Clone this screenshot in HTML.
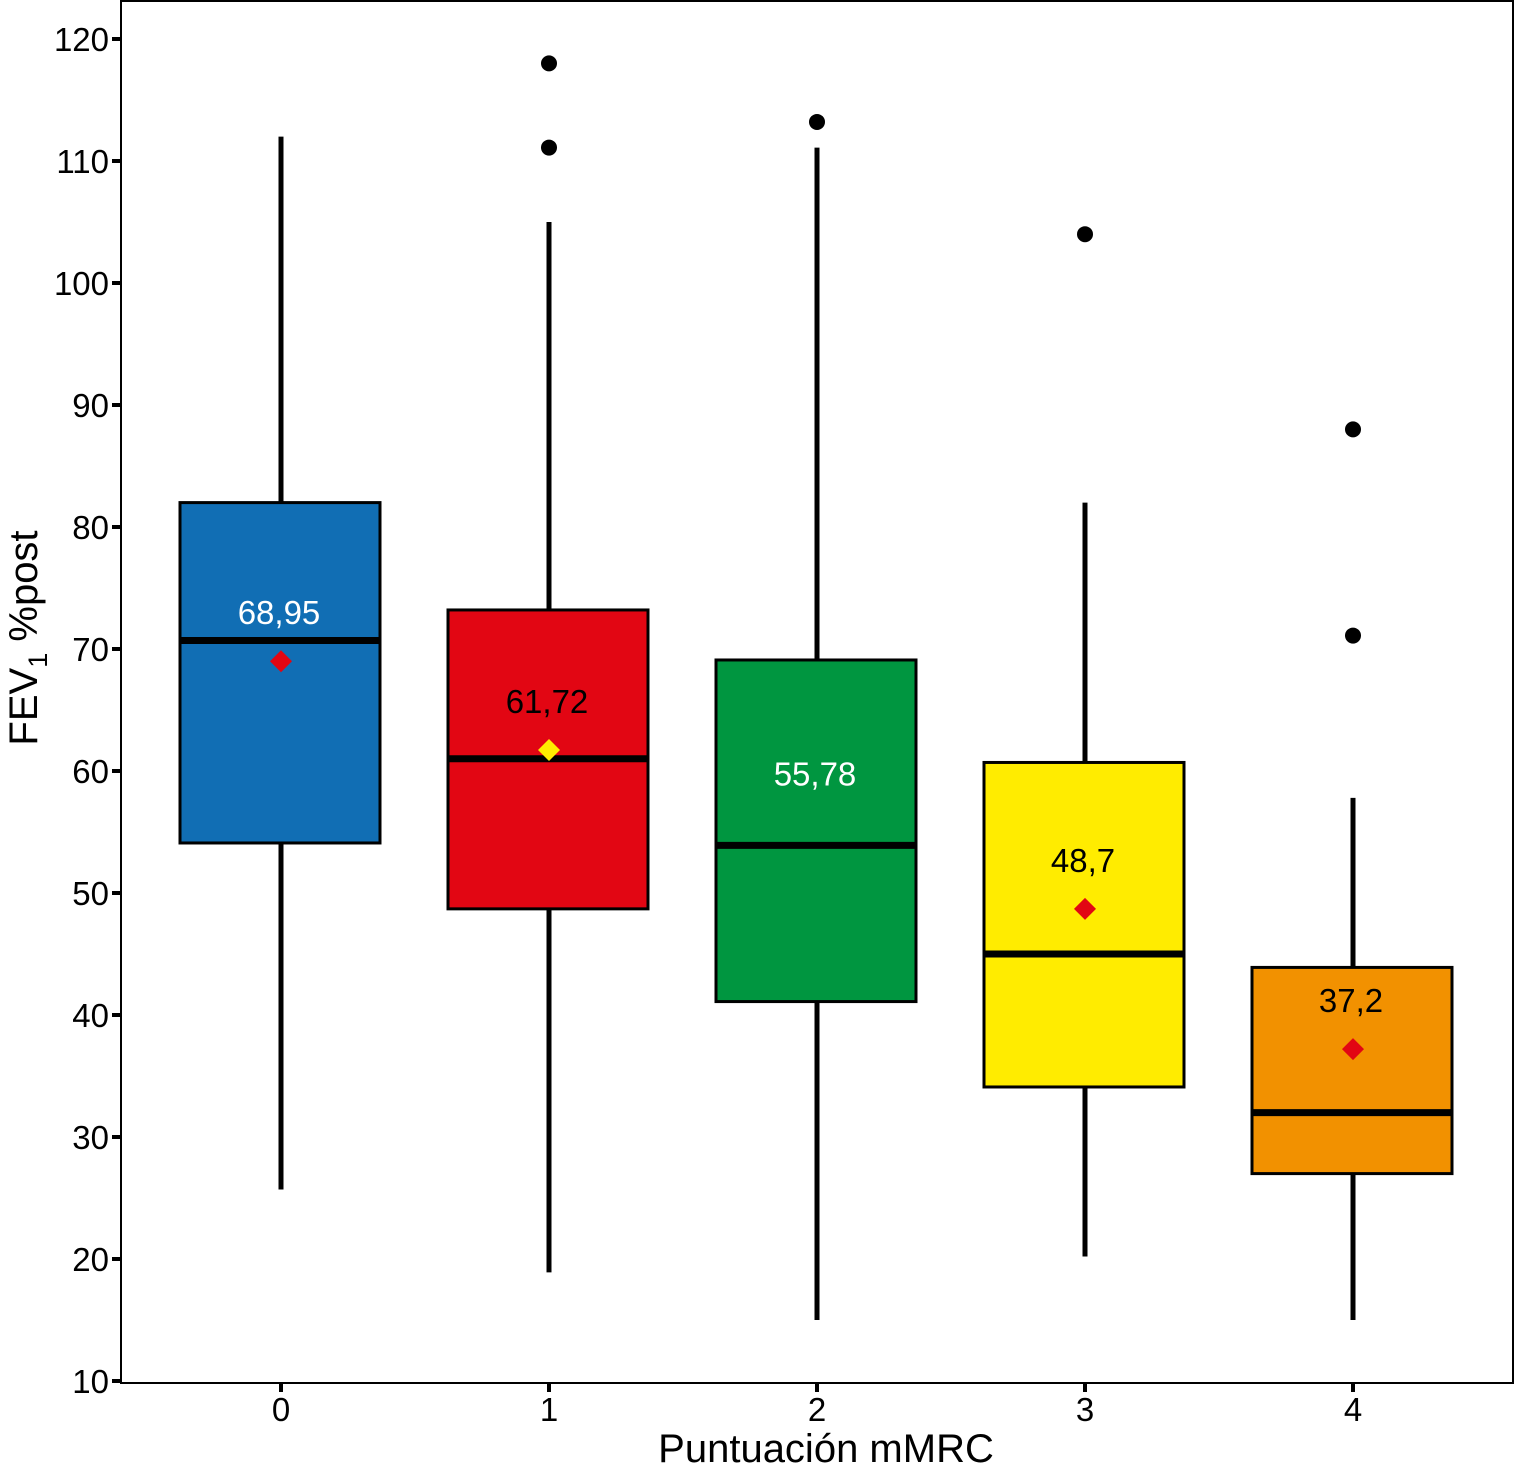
<!DOCTYPE html>
<html><head><meta charset="utf-8"><style>
html,body{margin:0;padding:0;background:#fff;width:1515px;height:1471px;overflow:hidden}
svg text{font-family:"Liberation Sans",Arial,sans-serif}
</style></head><body>
<svg id="chart" width="1515" height="1471" xmlns="http://www.w3.org/2000/svg"></svg>
<script>
const categories=["0","1","2","3","4"];
const whiskerLow=[25.7,18.9,15,20.2,15];
const q1=[54.1,48.7,41.1,34.1,27];
const medians=[70.7,61,53.9,45,32];
const q3=[82,73.2,69.1,60.7,43.9];
const whiskerHigh=[112,105,111.1,82,57.8];
const means=[69.0,61.72,55.78,48.7,37.2];
const meanLabels=["68,95","61,72","55,78","48,7","37,2"];
const outliers=[[],[118,111.1],[113.2],[104],[88,71.1]];
const fills=["#116eb4","#e20613","#009640","#ffec00","#f29100"];
const meanColors=["#e20613","#ffec00","#009640","#e20613","#e20613"];
const labelColors=["#fff","#000","#fff","#000","#000"];
const yTicks=[10,20,30,40,50,60,70,80,90,100,110,120];

const NS="http://www.w3.org/2000/svg";
const svg=document.getElementById('chart');
const L=121,R=1513,T=1,B=1383;
const y=v=>1381-(v-10)*12.2;
const x=i=>281+i*268;
function mk(tag,attrs,parent){const e=document.createElementNS(NS,tag);for(const k in attrs)e.setAttribute(k,attrs[k]);(parent||svg).appendChild(e);return e;}

const panel=mk('rect',{x:L,y:T,width:R-L,height:B-T,fill:'#fff',stroke:'#000','stroke-width':2});



yTicks.forEach(v=>{
  const t=mk('line',{x1:L-9,x2:L,y1:y(v),y2:y(v),stroke:'#000','stroke-width':4});
  
  
  const tx=mk('text',{x:L-12,y:y(v)+12,'text-anchor':'end','font-size':33,fill:'#000'});
  tx.textContent=v;
  
  
});

categories.forEach((c,i)=>{
  const cx=x(i),hw=100;
  const g=mk('g',{});
  
  
  const w1=mk('line',{x1:cx,x2:cx,y1:y(whiskerLow[i]),y2:y(q1[i]),stroke:'#000','stroke-width':5},g);
  
  
  const w2=mk('line',{x1:cx,x2:cx,y1:y(q3[i]),y2:y(whiskerHigh[i]),stroke:'#000','stroke-width':5},g);
  
  
  const b=mk('rect',{x:cx-hw-1,y:y(q3[i]),width:2*hw,height:y(q1[i])-y(q3[i]),fill:fills[i],stroke:'#000','stroke-width':3},g);
  
  
  const m=mk('line',{x1:cx-hw-1,x2:cx+hw-1,y1:y(medians[i]),y2:y(medians[i]),stroke:'#000','stroke-width':7},g);
  
  
  const my=y(means[i]);
  const d=mk('polygon',{points:`${cx},${my-11} ${cx+11},${my} ${cx},${my+11} ${cx-11},${my}`,fill:meanColors[i]},g);
  
  
  const lt=mk('text',{x:cx-2,y:my-37,'text-anchor':'middle','font-size':33,fill:labelColors[i]},g);
  lt.textContent=meanLabels[i];
  
  
  outliers[i].forEach(o=>{
    const p=mk('circle',{cx:cx,cy:y(o),r:8,fill:'#000'},g);
    
    
  });
  const xt=mk('line',{x1:cx,x2:cx,y1:B,y2:B+9,stroke:'#000','stroke-width':4});
  
  
  const xl=mk('text',{x:cx,y:B+38,'text-anchor':'middle','font-size':33,fill:'#000'});
  xl.textContent=c;
  
  
});

const xtitle=mk('text',{x:826,y:1462,'text-anchor':'middle','font-size':40,fill:'#000'});
xtitle.textContent='Puntuación mMRC';



const ytitle=mk('text',{x:0,y:0,'text-anchor':'middle','font-size':40,fill:'#000',transform:'translate(37,638) rotate(-90)'});


const s1=mk('tspan',{},ytitle);s1.textContent='FEV';
const s2=mk('tspan',{dy:10,'font-size':27},ytitle);s2.textContent='1';
const s3=mk('tspan',{dy:-10},ytitle);s3.textContent=' %post';
</script>
</body></html>
